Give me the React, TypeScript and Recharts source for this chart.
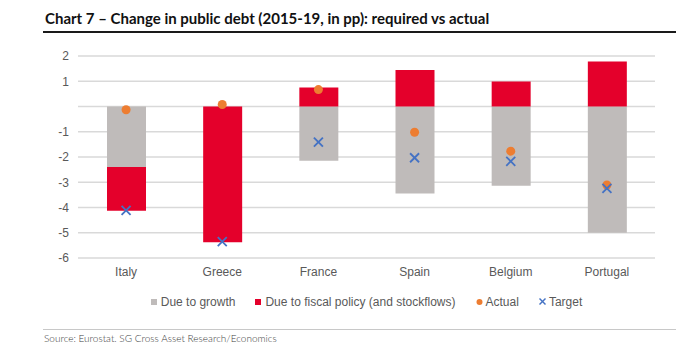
import {
  ComposedChart,
  Bar,
  Scatter,
  XAxis,
  YAxis,
  CartesianGrid,
} from "recharts";

const categories = ["Italy", "Greece", "France", "Spain", "Belgium", "Portugal"];
const dueToGrowth = [-2.4, 0, -2.15, -3.45, -3.14, -5.0];
const dueToFiscal = [-1.73, -5.38, 0.75, 1.45, 0.99, 1.78];
const actual = [-0.13, 0.08, 0.67, -1.02, -1.77, -3.11];
const target = [-4.11, -5.35, -1.41, -2.03, -2.17, -3.24];
const yTicks = [-6, -5, -4, -3, -2, -1, 0, 1, 2];

const GREY = "#bfbbba";
const RED = "#e4002b";
const ORANGE = "#ed7d31";
const BLUE = "#4472c4";
const TEXT = "#595959";

const data = categories.map((name, i) => ({
  name,
  growth: dueToGrowth[i],
  fiscal: dueToFiscal[i],
  actual: actual[i],
  target: target[i],
}));

const legendItems = [
  { label: "Due to growth", kind: "square", color: GREY },
  { label: "Due to fiscal policy (and stockflows)", kind: "square", color: RED },
  { label: "Actual", kind: "dot", color: ORANGE },
  { label: "Target", kind: "cross", color: BLUE },
];

// orange dot for the "Actual" series
const Dot = (props: any) => {
  const { cx, cy } = props;
  if (cx == null || cy == null) return <g />;
  return <circle cx={cx} cy={cy} r={4.5} fill={ORANGE} />;
};

// blue cross for the "Target" series
const Cross = (props: any) => {
  const { cx, cy } = props;
  if (cx == null || cy == null) return <g />;
  const s = 4.5;
  return (
    <g stroke={BLUE} strokeWidth={1.8}>
      <line x1={cx - s} y1={cy - s} x2={cx + s} y2={cy + s} />
      <line x1={cx - s} y1={cy + s} x2={cx + s} y2={cy - s} />
    </g>
  );
};

const ChartLegend = () => (
  <div
    style={{
      position: "absolute",
      left: 78,
      width: 577,
      top: 295,
      display: "flex",
      justifyContent: "center",
      gap: 20,
      fontFamily: "'Liberation Sans', Arial, sans-serif",
      fontSize: 12,
      color: TEXT,
    }}
  >
    {legendItems.map((it) => (
      <span key={it.label} style={{ display: "flex", alignItems: "center", gap: 3 }}>
        <svg width={7} height={10}>
          {it.kind === "square" && <rect x={0} y={2} width={6} height={6} fill={it.color} />}
          {it.kind === "dot" && <circle cx={3.5} cy={5} r={3} fill={it.color} />}
          {it.kind === "cross" && (
            <g stroke={it.color} strokeWidth={1.5}>
              <line x1={0.5} y1={1.5} x2={6.5} y2={7.5} />
              <line x1={0.5} y1={7.5} x2={6.5} y2={1.5} />
            </g>
          )}
        </svg>
        {it.label}
      </span>
    ))}
  </div>
);

export default function App() {
  return (
    <div
      style={{
        position: "absolute",
        left: 0,
        top: 0,
        width: 700,
        height: 354,
        background: "#fff",
        overflow: "hidden",
      }}
    >
      <div
        style={{
          position: "absolute",
          left: 45,
          top: 9,
          fontFamily: "Lato, 'Open Sans', sans-serif",
          fontWeight: 700,
          fontSize: 15,
          color: "#111",
          whiteSpace: "nowrap",
        }}
      >
        Chart 7 – Change in public debt (2015-19, in pp): required vs actual
      </div>
      <div
        style={{ position: "absolute", left: 43, top: 31, width: 633, height: 2, background: "#1a1a1a" }}
      />
      <ComposedChart
        width={700}
        height={354}
        data={data}
        stackOffset="sign"
        margin={{ top: 56, right: 45, bottom: 66, left: 0 }}
      >
        <CartesianGrid vertical={false} stroke="#d9d9d9" strokeWidth={1.5} />
        <XAxis
          dataKey="name"
          axisLine={false}
          tickLine={false}
          tickSize={0}
          tickMargin={9}
          height={30}
          tick={{ fontSize: 12, fill: TEXT, fontFamily: "'Liberation Sans', Arial, sans-serif" }}
        />
        <YAxis
          width={78}
          domain={[-6, 2]}
          ticks={yTicks}
          interval={0}
          axisLine={false}
          tickLine={false}
          tickSize={0}
          tickMargin={9}
          tickFormatter={(v: number) => (v === 0 ? "" : String(v))}
          tick={{ fontSize: 12, fill: TEXT, fontFamily: "'Liberation Sans', Arial, sans-serif" }}
        />
        <Bar dataKey="growth" stackId="a" fill={GREY} barSize={39} isAnimationActive={false} />
        <Bar dataKey="fiscal" stackId="a" fill={RED} barSize={39} isAnimationActive={false} />
        <Scatter dataKey="actual" shape={<Dot />} isAnimationActive={false} />
        <Scatter dataKey="target" shape={<Cross />} isAnimationActive={false} />
      </ComposedChart>
      <ChartLegend />
      <div
        style={{ position: "absolute", left: 43, top: 329, width: 633, height: 1, background: "#c8c8c8" }}
      />
      <div
        style={{
          position: "absolute",
          left: 44,
          top: 332,
          fontFamily: "Lato, 'Open Sans', sans-serif",
          fontWeight: 300,
          fontSize: 10,
          color: "#404040",
          whiteSpace: "nowrap",
        }}
      >
        Source: Eurostat. SG Cross Asset Research/Economics
      </div>
    </div>
  );
}
